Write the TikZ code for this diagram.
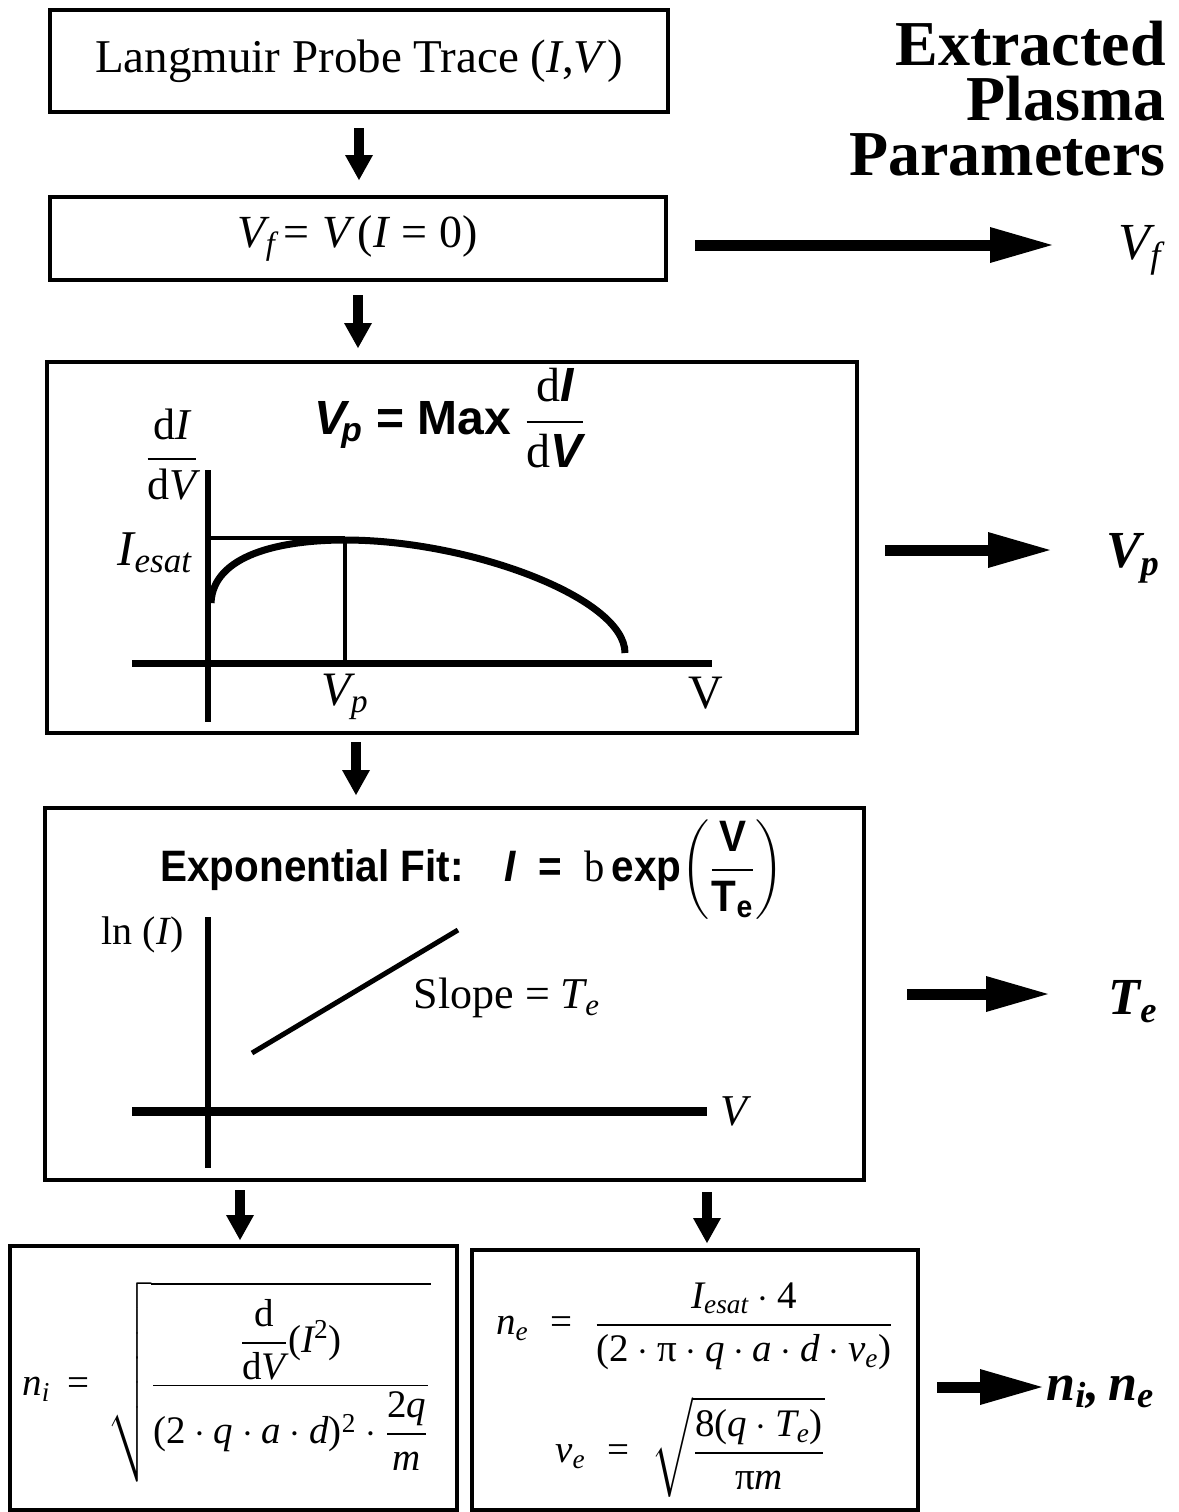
\documentclass[tikz,border=0pt]{standalone}
\usepackage{fix-cm}
\usepackage{amsmath}
\usepackage{graphicx}
\usepackage[no-math]{fontspec}
\setmainfont{Liberation Serif}
\newfontfamily\hv{Liberation Sans}
\newfontfamily\tmsmath{Liberation Serif}[NFSSFamily=tmsx]
\DeclareSymbolFont{operators}{TU}{tmsx}{m}{n}
\DeclareSymbolFontAlphabet{\mathrm}{operators}
\DeclareMathAlphabet{\mathit}{TU}{tmsx}{m}{it}
\usetikzlibrary{arrows.meta,calc}
\newcommand{\fs}[1]{\fontsize{#1}{#1}\selectfont}
\newcommand{\bi}[1]{\text{\bfseries\itshape #1}}
\newcommand{\mi}[1]{\mathit{#1}}
\tikzset{
  box/.style={draw,line width=2pt,inner sep=0pt,outer sep=0pt},
  darrow/.style={line width=5pt,-{Triangle[width=14pt,length=12.5pt,line width=0pt]}},
  rarrow/.style={line width=5.5pt,-{Triangle[width=18pt,length=31pt,line width=0pt]}},
  axisline/.style={line width=3pt},
  lbl/.style={inner sep=0pt},
}
\begin{document}
\begin{tikzpicture}[x=0.5pt,y=-0.5pt]
\useasboundingbox[fill=white] (0,0) rectangle (1179,1512);

% boxes
\node[box,minimum width=309pt,minimum height=51pt] (b1) at (359,61)
  {\fs{23.5}Langmuir Probe Trace (\textit{I},\textit{V})};
\node[box,minimum width=308pt,minimum height=41.5pt] (b2) at (358,238.5)
  {\fs{23}$\mi{V}_{\mi{f}}\,{=}\; \mi{V}\,(\mi{I}=0)$};
\node[box,minimum width=405pt,minimum height=185.5pt] (b3) at (452,547.5) {};
\node[box,minimum width=409.5pt,minimum height=186pt] (b4) at (454.5,994) {};
\node[box,minimum width=223.5pt,minimum height=132pt] (b5) at (233.5,1378) {};
\node[box,minimum width=223pt,minimum height=130pt] (b6) at (695,1380) {};

% title
\node[lbl,anchor=east,align=right,font=\bfseries\fontsize{32}{27.5}\selectfont] (title) at (1166,99)
  {Extracted\\Plasma\\Parameters};

% down arrows
\coordinate (x3) at (356,0);
\coordinate (x4) at (240,0);
\coordinate (x5) at (707,0);
\draw[darrow,shorten <=8pt,shorten >=8.5pt] (b1.south) -- (b1.south |- b2.north);
\draw[darrow,shorten <=7.5pt,shorten >=7pt] (b2.south) -- (b2.south |- b3.north);
\draw[darrow,shorten <=4.5pt,shorten >=6.5pt] (b3.south -| x3) -- (b4.north -| x3);
\draw[darrow,shorten <=5pt,shorten >=3pt] (b4.south -| x4) -- (b5.north -| x4);
\draw[darrow,shorten <=6pt,shorten >=3.5pt] (b4.south -| x5) -- (b6.north -| x5);

% right arrows and results
\coordinate (t1) at (1052,245);
\coordinate (t2) at (1050,550);
\coordinate (t3) at (1048,994);
\coordinate (t4) at (1042,1387);
\draw[rarrow,shorten <=14.5pt] (b2.east |- t1) -- (t1);
\draw[rarrow,shorten <=14pt] (b3.east |- t2) -- (t2);
\draw[rarrow,shorten <=21.5pt] (b4.east |- t3) -- (t3);
\draw[rarrow,shorten <=9.5pt] (b6.east |- t4) -- (t4);
\node[lbl] (rvf) at (1140,250) {\fs{26}$\mi{V}_{\mi{f}}$};
\node[lbl] (rvp) at (1133,558) {\fs{26}$\bi{V}_{\bi{p}}$};
\node[lbl] (rte) at (1133,1002) {\fs{26}$\bi{T}_{\bi{e}}$};
\node[lbl,anchor=west] (rn) at (1046,1392) {\fs{26}$\bi{n}_{\bi{i}}\text{\bfseries\itshape ,}\,\bi{n}_{\bi{e}}$};

% --- Vp box content
\node[lbl] (vptitle) at (450,418) {\hv\bfseries\fs{24}$\bi{V}_{\!\bi{p}}$ = Max $\dfrac{\text{\rmfamily\mdseries d}\bi{I}}{\text{\rmfamily\mdseries d}\bi{V}}$};
\node[lbl] (dIdV) at (172,455) {\fs{22}$\dfrac{\mathrm{d}\mi{I}}{\mathrm{d}\mi{V}}$};
\node[lbl] (iesat) at (155,553) {\fs{25}$\mi{I}_{\mi{esat}}$};
\node[lbl] (vpl) at (345,697) {\fs{24}$\mi{V}_{\mi{p}}$};
\node[lbl] (vx) at (706,693) {\fs{24}V};
\draw[axisline] (208,470) -- (208,722);
\draw[line width=3.5pt] (132,663) -- (712,663);
\draw[line width=2pt] (208,538) -- (345,538);
\draw[line width=2pt] (345,538) -- (345,663);
\draw[line width=3.5pt] (211,603) .. controls (213,555) and (280,540) .. (345,540)
   .. controls (470,540) and (625,598) .. (625,653);

% --- exponential fit box content
\node[lbl] (exptitle) at (472,870) {\scalebox{0.92}[1]{\hv\bfseries\fs{22}Exponential Fit:\quad\textit{I}\ \ =\ \ {\rmfamily\mdseries b}\,exp$\left(\dfrac{\text{V}}{\text{T}_{\text{e}}}\right)$}};
\node[lbl] (lnI) at (143,935) {\fs{20}ln (\textit{I})};
\node[lbl] (slope) at (507,998) {\fs{22}Slope = $\mi{T}_{\mi{e}}$};
\node[lbl] (vx2) at (736,1111) {\fs{22}\textit{V}};
\draw[axisline] (208,917) -- (208,1168);
\draw[line width=4.5pt] (132,1111) -- (707,1111);
\draw[line width=2.5pt] (252,1053) -- (458,930);

% --- bottom boxes
\node[lbl,anchor=west] (ni) at (22,1382) {\fs{19.5}$\mi{n}_{\mi{i}} \,=\, \sqrt{\dfrac{\dfrac{\mathrm{d}}{\mathrm{d}\mi{V}}(\mi{I}^{2})}{(2\cdot \mi{q}\cdot \mi{a}\cdot \mi{d})^{2}\cdot\dfrac{2\mi{q}}{\mi{m}}}}$};
\node[lbl] (ne) at (695,1326) {\fs{19.5}$\mi{n}_{\mi{e}} \;=\; \dfrac{\mi{I}_{\mi{esat}}\cdot 4}{(2\cdot \text{π}\cdot \mi{q}\cdot \mi{a}\cdot \mi{d}\cdot \mi{v}_{\mi{e}})}$};
\node[lbl,anchor=west] (ve) at (555,1447) {\fs{19.5}$\mi{v}_{\mi{e}} \;=\; \sqrt{\dfrac{8(\mi{q}\cdot \mi{T}_{\mi{e}})}{\text{π}\mi{m}}}$};
\end{tikzpicture}
\end{document}
